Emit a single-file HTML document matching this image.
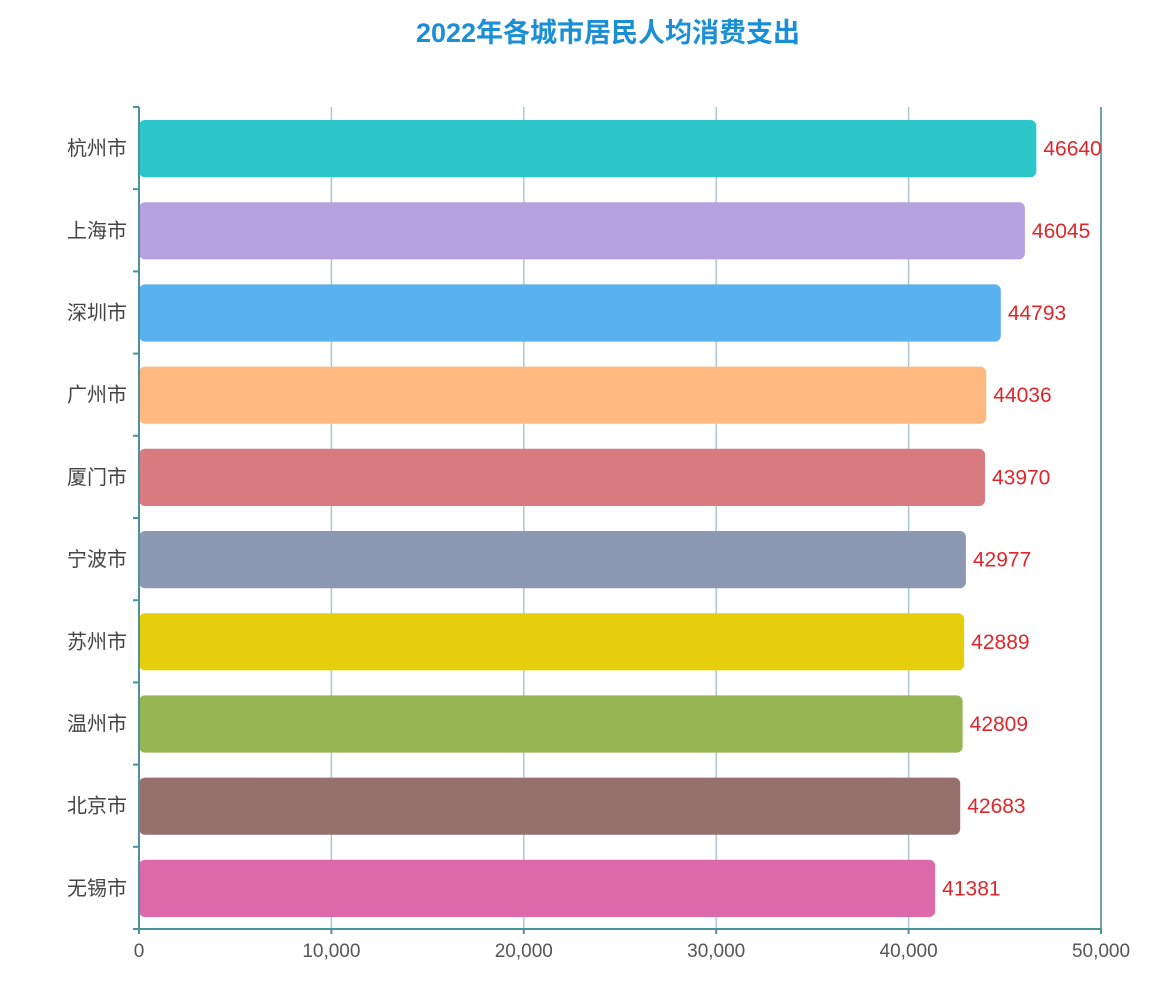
<!DOCTYPE html>
<html><head><meta charset="utf-8"><style>
body{margin:0;background:#fff;}
svg{display:block;font-family:"Liberation Sans","Noto Sans CJK SC",sans-serif;}
</style></head><body>
<svg id="chart" width="1173" height="981" viewBox="0 0 1173 981">
<text x="608" y="42" text-anchor="middle" font-size="27" font-weight="bold" fill="#1a8fd6">2022年各城市居民人均消费支出</text>
<g id="grid"></g><g id="bars"></g><g id="axes"></g>
</svg>
<script>
const categories=["杭州市","上海市","深圳市","广州市","厦门市","宁波市","苏州市","温州市","北京市","无锡市"];
const values=[46640,46045,44793,44036,43970,42977,42889,42809,42683,41381];
const colors=["#2ec7c9","#b6a2de","#5ab1ef","#ffb980","#d87a80","#8d98b3","#e5cf0d","#97b552","#95706d","#dc69aa"];
const xTicks=[0,10000,20000,30000,40000,50000];
const xTickLabels=["0","10,000","20,000","30,000","40,000","50,000"];
const NS="http://www.w3.org/2000/svg";
const x0=139,x1=1101,yTop=107,yBot=929;
const xs=v=>x0+(v-0)/(50000)*(x1-x0);
const band=(yBot-yTop)/categories.length;
const ys=i=>yTop+i*band;
function mk(parent,tag,attrs){const e=document.createElementNS(NS,tag);for(const k in attrs)e.setAttribute(k,attrs[k]);document.getElementById(parent).appendChild(e);return e;}
xTicks.forEach((t,i)=>{
 if(i>0){const g=mk('grid','line',{x1:xs(t),x2:xs(t),y1:yTop,y2:yBot,stroke:i==xTicks.length-1?'#6aa8ad':'#a9c9cc','stroke-width':i==xTicks.length-1?2:1.5});
 
 }
 const l=mk('axes','text',{x:xs(t),y:957,'text-anchor':'middle','font-size':19,fill:'#555'});
 l.textContent=xTickLabels[i];
 
 
 const tk=mk('axes','line',{x1:xs(t),x2:xs(t),y1:yBot,y2:yBot+5,stroke:'#4a9499','stroke-width':2});
 
 
});
categories.forEach((c,i)=>{
 const by=ys(i)+13,bh=band-25;
 const r=mk('bars','rect',{x:x0,y:by,width:xs(values[i])-x0,height:bh,rx:6,fill:colors[i]});
 
 
 const v=mk('bars','text',{x:xs(values[i])+7,y:by+bh/2+7,'font-size':21,fill:'#e0262b'});
 v.textContent=values[i];
 
 
 const l=mk('axes','text',{x:127,y:ys(i)+band/2+7,'text-anchor':'end','font-size':20,fill:'#444'});
 l.textContent=c;
 
 
});
for(let i=0;i<=categories.length;i++){
 const t=mk('axes','line',{x1:133,x2:x0,y1:ys(i),y2:ys(i),stroke:'#4a9499','stroke-width':2});
 
 
}
const ya=mk('axes','line',{x1:x0,x2:x0,y1:yTop,y2:yBot,stroke:'#4a9499','stroke-width':2});


const xa=mk('axes','line',{x1:x0,x2:x1,y1:yBot,y2:yBot,stroke:'#4a9499','stroke-width':2});


</script>
</body></html>
